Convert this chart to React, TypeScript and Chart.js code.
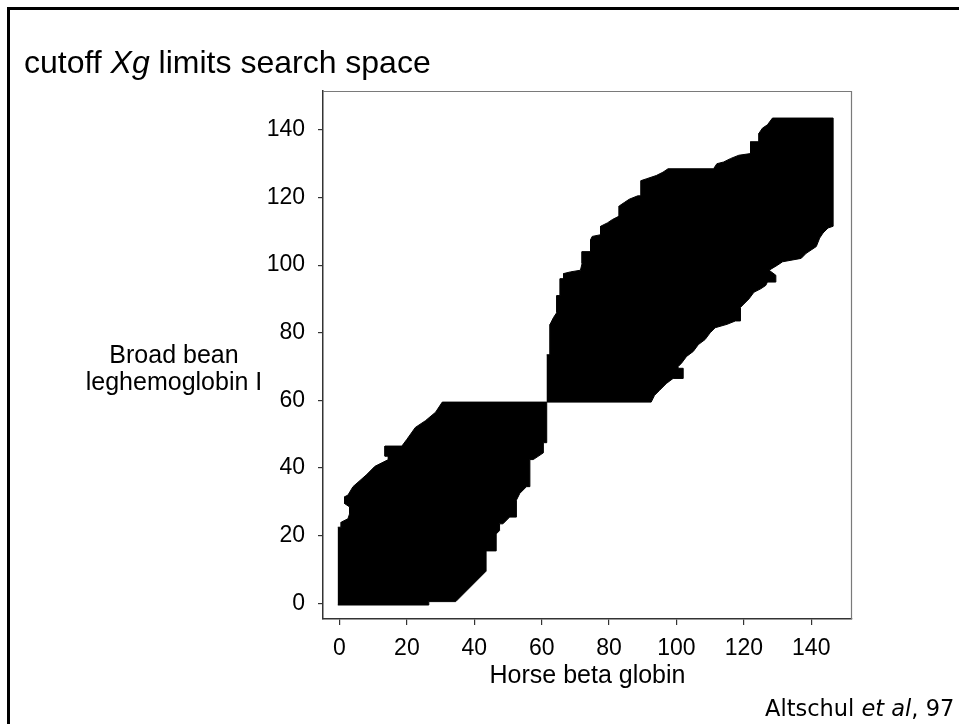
import { useEffect, useRef } from "react";
import { Chart, registerables } from "chart.js";

Chart.register(...registerables);

// ---- data ----
const X_TICKS = [0, 20, 40, 60, 80, 100, 120, 140];
const Y_TICKS = [0, 20, 40, 60, 80, 100, 120, 140];
const X_MIN = -4.9;
const X_MAX = 152.1;
const Y_MIN = -4.64;
const Y_MAX = 151.5;

const TITLE_START = "cutoff ";
const TITLE_ITALIC = "Xg";
const TITLE_END = " limits search space";
const X_LABEL = "Horse beta globin";
const Y_LABEL = ["Broad bean", "leghemoglobin I"];
const CITE_START = "Altschul ";
const CITE_ITALIC = "et al";
const CITE_END = ", 97";

// outline of the searched region below the diagonal break (x, y in residues)
const lowerRegion: [number, number][] = [
  [-0.5, -0.5], [26.5, -0.5], [26.5, 0.5], [34.5, 0.5], [43.5, 9.5],
  [43.5, 15.5], [46.5, 15.5], [46.5, 20.5], [47.5, 21.5], [47.5, 23.5],
  [48.5, 23.5], [50.5, 25.5], [52.5, 25.5], [52.5, 30.5], [53.5, 32.5],
  [55.5, 34.5], [56.5, 34.5], [56.5, 42.5], [57.5, 42.5], [60.5, 44.5],
  [60.5, 47.5], [61.5, 47.5], [61.5, 59.5], [30.5, 59.5], [28.5, 56.5],
  [25.5, 54], [22.5, 52], [20, 48.5], [18.5, 46.5], [13.5, 46.5],
  [13.5, 43.5], [14.5, 43.5], [14.5, 42.5], [10.5, 40.5], [8, 38],
  [4, 34.5], [2.5, 32], [1.5, 31.5], [1.5, 29.5], [3, 28.5],
  [3, 26.5], [2.5, 25], [0.5, 24], [0.5, 22.5], [-0.5, 22.5],
];

// outline of the searched region above the diagonal break
const upperRegion: [number, number][] = [
  [61.5, 59.5], [92.5, 59.5], [93.5, 61.5], [95, 63], [97, 65],
  [99, 66.5], [102, 66.5], [102, 69.5], [100.5, 69.5], [100.5, 70],
  [101.5, 71], [103, 73], [105, 74.5], [106.5, 76.5], [108.5, 78],
  [110, 80], [111.5, 81.5], [115, 82.5], [117.5, 83.5], [119, 83.5],
  [119, 87.5], [120, 88.5], [121.5, 90], [123, 92], [125, 93],
  [126.5, 94], [127, 95], [129.5, 95], [129.5, 97], [127.5, 98.5],
  [130, 100], [131.5, 101], [137, 102], [138.5, 103.5], [140, 104.5],
  [141.5, 105.5], [142.5, 108], [143.5, 109.5], [145, 111], [146.5, 111.5],
  [146.5, 143.5], [128.5, 143.5], [127, 141.5], [125.5, 140.5], [124.5, 139],
  [124.5, 136.5], [122, 136.5], [122, 133], [118.5, 132.5], [116, 131.5],
  [114, 130.5], [112, 130], [111, 128.5], [97.5, 128.5], [96, 127.5],
  [94, 126.5], [91, 125.5], [89.5, 125], [89.5, 120.5], [88.5, 120.5],
  [86, 119.5], [84.5, 118.5], [83, 117.5], [83, 114.5], [81, 113.5],
  [79.5, 112.5], [77.5, 111.5], [77.5, 109], [75, 108.5], [74.5, 107.5],
  [74.5, 104], [72, 104], [72, 100.5], [71.5, 98.5], [68.5, 98],
  [66.5, 97.5], [66.5, 96], [65.5, 96], [65.5, 91], [64.5, 91],
  [64.5, 86], [63.5, 84.5], [62.5, 82.5], [62.5, 73.5], [61.5, 73.5],
];

const SANS = "'Liberation Sans', Arial, Helvetica, sans-serif";

export default function App() {
  const canvasRef = useRef<HTMLCanvasElement | null>(null);

  useEffect(() => {
    const frame = {
      id: "plotFrame",
      afterDatasetsDraw(chart: any) {
        const { ctx, chartArea: a } = chart;
        ctx.save();
        ctx.strokeStyle = "#7a7a7a";
        ctx.lineWidth = 1.2;
        ctx.beginPath();
        ctx.moveTo(a.left, a.top + 0.5);
        ctx.lineTo(a.right - 0.5, a.top + 0.5);
        ctx.lineTo(a.right - 0.5, a.bottom);
        ctx.stroke();
        ctx.restore();
      },
    };

    const region = (pts: [number, number][]) => ({
      data: pts.map(([x, y]) => ({ x, y })),
      showLine: true,
      fill: "shape",
      backgroundColor: "#000",
      borderColor: "#000",
      borderWidth: 1,
      pointRadius: 0,
      pointHoverRadius: 0,
    });

    const chart = new Chart(canvasRef.current as HTMLCanvasElement, {
      type: "scatter",
      data: { datasets: [region(lowerRegion), region(upperRegion)] as any },
      options: {
        animation: false,
        responsive: true,
        maintainAspectRatio: false,
        events: [],
        layout: { padding: { left: 0, top: 91, right: 107, bottom: 10 } },
        plugins: { legend: { display: false }, tooltip: { enabled: false } },
        scales: {
          x: {
            type: "linear",
            min: X_MIN,
            max: X_MAX,
            afterBuildTicks: (s: any) => {
              s.ticks = X_TICKS.map((v) => ({ value: v }));
            },
            afterFit: (s: any) => {
              s.height = 95;
            },
            grid: { drawOnChartArea: false, drawTicks: true, tickLength: 6, color: "#333", lineWidth: 1.2 },
            border: { display: true, color: "#333", width: 1.5 },
            ticks: {
              color: "#000",
              font: { family: SANS, size: 23 },
              padding: 10,
              maxRotation: 0,
              autoSkip: false,
            },
            title: {
              display: true,
              text: X_LABEL,
              color: "#000",
              font: { family: SANS, size: 25 },
              padding: { top: 0, bottom: 23 },
            },
          },
          y: {
            type: "linear",
            min: Y_MIN,
            max: Y_MAX,
            afterBuildTicks: (s: any) => {
              s.ticks = Y_TICKS.map((v) => ({ value: v }));
            },
            afterFit: (s: any) => {
              s.width = 323;
            },
            grid: { drawOnChartArea: false, drawTicks: true, tickLength: 5, color: "#333", lineWidth: 1.2 },
            border: { display: true, color: "#333", width: 1.5 },
            ticks: {
              color: "#000",
              font: { family: SANS, size: 23 },
              padding: 13,
              autoSkip: false,
            },
          },
        },
      } as any,
      plugins: [frame],
    });
    return () => chart.destroy();
  }, []);

  return (
    <div
      style={{
        position: "absolute",
        left: 0,
        top: 0,
        width: 959,
        height: 724,
        overflow: "hidden",
        background: "#fff",
        fontFamily: SANS,
        color: "#000",
      }}
    >
      <div
        style={{
          position: "absolute",
          left: 7,
          top: 7,
          width: 1000,
          height: 1000,
          border: "3px solid #000",
        }}
      />
      <div style={{ position: "absolute", left: 0, top: 0, width: 959, height: 724 }}>
        <canvas ref={canvasRef} />
      </div>
      <div
        style={{
          position: "absolute",
          left: 24,
          top: 46,
          fontSize: 32,
          lineHeight: "32px",
          whiteSpace: "nowrap",
        }}
      >
        {TITLE_START}
        <i>{TITLE_ITALIC}</i>
        {TITLE_END}
      </div>
      <div
        style={{
          position: "absolute",
          left: 74,
          top: 341,
          width: 200,
          textAlign: "center",
          fontSize: 25,
          lineHeight: "27px",
        }}
      >
        {Y_LABEL.map((l) => (
          <div key={l} style={{ whiteSpace: "nowrap" }}>
            {l}
          </div>
        ))}
      </div>
      <div
        style={{
          position: "absolute",
          left: 765,
          top: 695,
          fontFamily: "'DejaVu Sans', sans-serif",
          fontSize: 22.5,
          lineHeight: "26px",
          whiteSpace: "nowrap",
        }}
      >
        {CITE_START}
        <i>{CITE_ITALIC}</i>
        {CITE_END}
      </div>
    </div>
  );
}
